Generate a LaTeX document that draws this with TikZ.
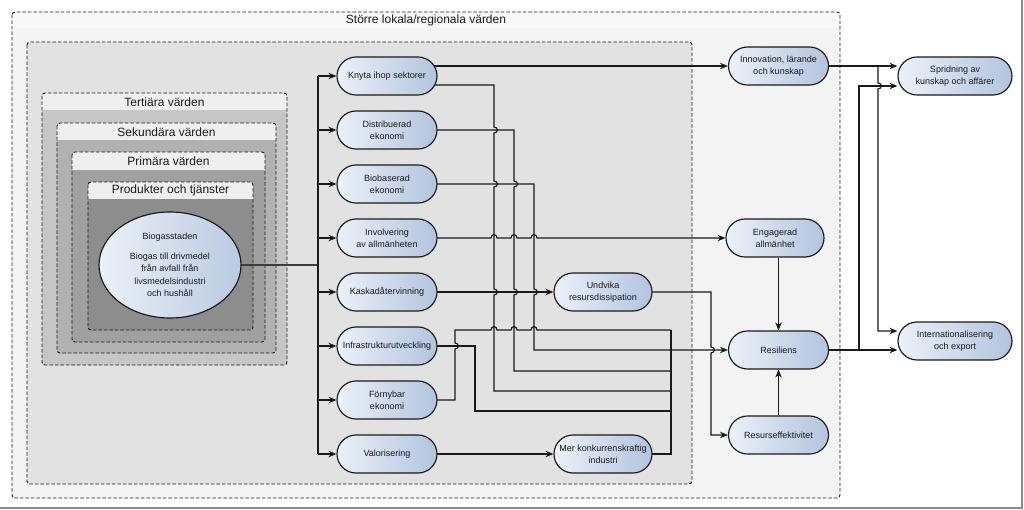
\documentclass[tikz,border=0pt]{standalone}
\usepackage{fontspec}
\setmainfont{Liberation Sans}
\usetikzlibrary{arrows.meta,shapes.geometric}
\pgfdeclarelayer{bg}
\pgfdeclarelayer{wires}
\pgfsetlayers{bg,wires,main}
\definecolor{nodeL}{HTML}{EBF1F9}
\definecolor{nodeR}{HTML}{B2C4DE}
\definecolor{outerB}{HTML}{F3F3F3}
\definecolor{outerH}{HTML}{F8F8F8}
\definecolor{innerB}{HTML}{E2E2E2}
\definecolor{hdr}{HTML}{EFEFEF}
\definecolor{terB}{HTML}{C6C6C6}
\definecolor{secB}{HTML}{B1B1B1}
\definecolor{priB}{HTML}{A0A0A0}
\definecolor{proB}{HTML}{8D8D8D}
\definecolor{ink}{HTML}{1A1A1A}
\definecolor{framec}{HTML}{8A8A8A}
\newcommand{\valuebox}[7]{%
  \begin{scope}
    \clip[rounded corners=3pt] (#1,#2) rectangle (#3,#4);
    \fill[#6] (#1,#2) rectangle (#3,#4);
    \fill[#7] (#1,#2) rectangle (#3,#5);
  \end{scope}
  \draw[boxline] (#1,#2) rectangle (#3,#4);}
\newcommand{\vhop}[2]{-- (#1,#2-3) .. controls (#1+4.5,#2-3) and (#1+4.5,#2+3) .. (#1,#2+3)}
\newcommand{\vhopup}[2]{-- (#1,#2+3) .. controls (#1+4.5,#2+3) and (#1+4.5,#2-3) .. (#1,#2-3)}
\newcommand{\hhop}[2]{-- (#1-3,#2) .. controls (#1-3,#2-4.5) and (#1+3,#2-4.5) .. (#1+3,#2)}
\begin{document}
\begin{tikzpicture}[x=1pt,y=-1pt,
  boxline/.style={draw=ink, line width=0.9pt, dash pattern=on 3.5pt off 2pt, rounded corners=3pt},
  boxtitle/.style={font=\fontsize{12}{14}\selectfont, text=ink, inner sep=0pt},
  stadium/.style={draw=ink, line width=1.15pt, rounded corners=19pt, minimum width=100pt,
    minimum height=38pt, inner sep=1pt, left color=nodeL, right color=nodeR, align=center,
    font=\fontsize{9}{11.6}\selectfont, text=ink},
  wide/.style={minimum width=114pt},
  wire/.style={draw=ink, line width=1.15pt},
  arr/.style={wire, -{Stealth[length=8pt,width=6.5pt]}}]
\useasboundingbox (0,0) rectangle (1024,510);
\begin{pgfonlayer}{bg}
  \fill[white] (0,0) rectangle (1024,510);
  \draw[framec, line width=2pt] (0,508) -- (1022,508) -- (1022,0);
  \valuebox{12}{12}{840}{498}{28}{outerB}{outerH}
  \node[boxtitle] (tStor) at (426,20) {Större lokala/regionala värden};
  \valuebox{27}{42}{692}{484}{42}{innerB}{innerB}
  \valuebox{42}{93}{287}{365}{110}{terB}{hdr}
  \node[boxtitle] (tTer) at (164.5,102) {Tertiära värden};
  \valuebox{57}{123}{276}{353}{140}{secB}{hdr}
  \node[boxtitle] (tSek) at (166.5,132) {Sekundära värden};
  \valuebox{72}{152}{265}{342}{170}{priB}{hdr}
  \node[boxtitle] (tPri) at (168.5,161) {Primära värden};
  \valuebox{88}{182}{253}{330}{199}{proB}{hdr}
  \node[boxtitle] (tPro) at (170.5,190.5) {Produkter och tjänster};
\end{pgfonlayer}

\node[draw=ink, line width=1.15pt, ellipse, minimum width=142pt, minimum height=106pt, inner sep=0pt,
  left color=nodeL, right color=nodeR!90, align=center, font=\fontsize{9}{12.3}\selectfont, text=ink]
  (bio0) at (170,265) {Biogasstaden\\[7.5pt]Biogas till drivmedel\\från avfall från\\livsmedelsindustri\\och hushåll};

\node[stadium] (knyta) at (387,76) {Knyta ihop sektorer};
\node[stadium] (distr) at (387,130) {Distribuerad\\ekonomi};
\node[stadium] (biob) at (387,184) {Biobaserad\\ekonomi};
\node[stadium] (invol) at (387,238) {Involvering\\av allmänheten};
\node[stadium] (kaskad) at (387,292) {Kaskadåtervinning};
\node[stadium] (infra) at (387,346) {Infrastrukturutveckling};
\node[stadium] (fornyb) at (387,400) {Förnybar\\ekonomi};
\node[stadium] (valor) at (387,454) {Valorisering};
\node[stadium, minimum width=98pt] (undvika) at (603,292) {Undvika\\resursdissipation};
\node[stadium, minimum width=98pt] (merkonk) at (603,454) {Mer konkurrenskraftig\\industri};
\node[stadium] (innov) at (778.5,66) {Innovation, lärande\\och kunskap};
\node[stadium, minimum width=98pt] (engag) at (775,238) {Engagerad\\allmänhet};
\node[stadium] (resil) at (778.5,350) {Resiliens};
\node[stadium] (resurs) at (778.5,435) {Resurseffektivitet};
\node[stadium, wide] (sprid) at (955,76) {Spridning av\\kunskap och affärer};
\node[stadium, wide] (intl) at (955,341) {Internationalisering\\och export};

\coordinate (trunkTop) at (318,76);
\coordinate (trunkBot) at (318,454);
\coordinate (splitI) at (878,66);

\begin{pgfonlayer}{wires}
  % from the ellipse to the trunk
  \draw[wire, line width=1.6pt, draw=ink!85] (bio0.center) -- (trunkTop |- bio0.center);
  \draw[wire] (trunkTop) -- (trunkBot);
  \foreach \n in {knyta,distr,biob,invol,kaskad,infra,fornyb,valor}
    \draw[arr] (trunkTop |- \n.west) -- (\n.west);
  % Knyta ihop sektorer
  \draw[arr] (knyta.center |- innov.west) -- (innov.west);
  \draw[wire] (knyta.center |- 0,85) -- (494,85) \vhop{494}{130} \vhop{494}{184} -- (494,238)
     \vhop{494}{292} -- (494,391) -- (671,391);
  % Distribuerad ekonomi
  \draw[wire] (distr.center) -- (514,130) \vhop{514}{184} -- (514,238) \vhop{514}{292} -- (514,371) -- (671,371);
  % Biobaserad ekonomi
  \draw[arr] (biob.center) -- (534,184) -- (534,238) \vhop{534}{292} -- (534,350) -- (resil.west);
  % Involvering
  \draw[arr] (invol.center) \hhop{494}{238} \hhop{514}{238} \hhop{534}{238} -- (engag.west);
  % Kaskadatervinning
  \draw[arr] (kaskad.center) -- (undvika.west);
  % Undvika -> Resurseffektivitet
  \draw[arr] (undvika.center) -- (711,292) \vhop{711}{350} -- (711,435) -- (resurs.west);
  % Infrastrukturutveckling
  \draw[wire] (infra.center) -- (475,346) -- (475,411) -- (671,411);
  % Fornybar ekonomi
  \draw[wire] (fornyb.center) -- (455,400) \vhopup{455}{346} -- (455,330) \hhop{494}{330} \hhop{514}{330}
     \hhop{534}{330} -- (671,330);
  % Valorisering
  \draw[arr] (valor.center) -- (merkonk.west);
  \draw[wire] (merkonk.center) -- (671,454) -- (671,330);
  % right part
  \draw[arr] (resil.north |- engag.south) -- (resil.north);
  \draw[arr] (resurs.north) -- (resil.south);
  \draw[arr] (innov.center) -- (sprid.west |- innov.center);
  \draw[arr] (splitI) \vhop{878}{86} -- (878,331) -- (intl.west |- 0,331);
  \draw[arr] (resil.center) -- (intl.west |- resil.center);
  \draw[arr] (859,350) -- (859,86) -- (sprid.west |- 0,86);
\end{pgfonlayer}
\end{tikzpicture}
\end{document}
